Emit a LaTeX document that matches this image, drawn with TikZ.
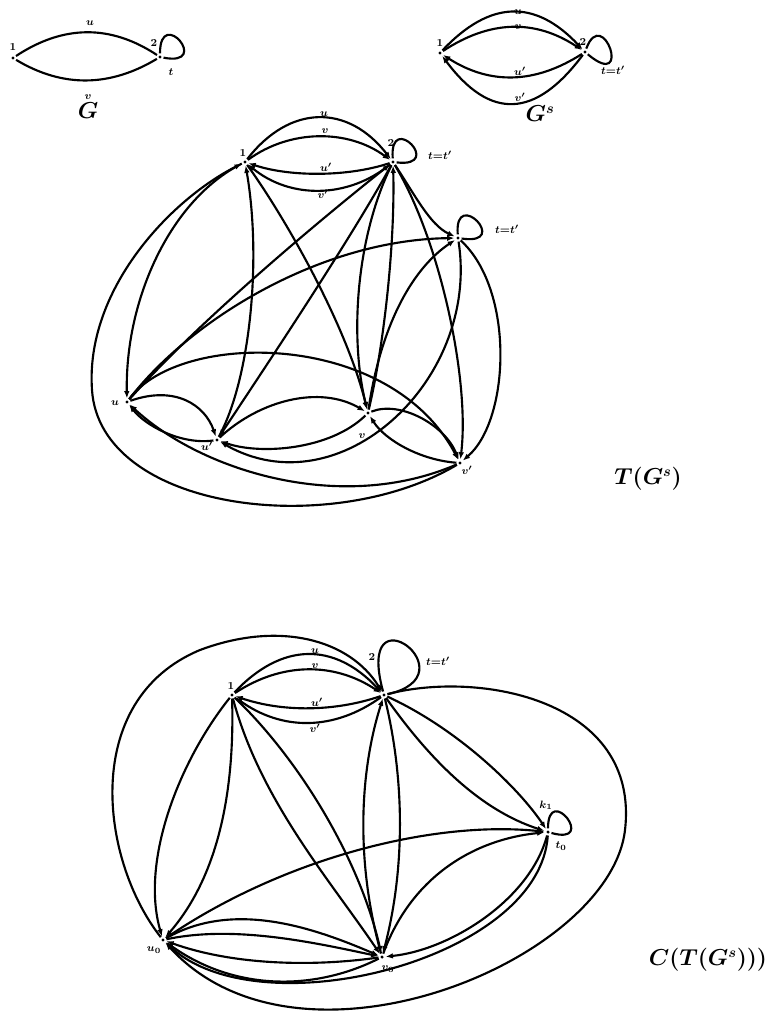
\documentclass[tikz,border=0pt]{standalone}
\usetikzlibrary{arrows.meta}
\tikzset{
  vtx/.style={circle, minimum size=5pt, inner sep=0pt,
    path picture={\fill (path picture bounding box.center) circle (1.3pt);}},
  lnk/.style={line width=1.6pt},
  arr/.style={lnk, -{Latex[length=5.5pt,width=4.2pt]}},
  lab/.style={inner sep=0pt, font=\fontsize{8.5}{10}\selectfont},
  ttl/.style={inner sep=0pt, font=\fontsize{16}{19}\selectfont},
}
\newcommand{\bmlabel}[1]{{\boldmath$#1$}}
\begin{document}
\begin{tikzpicture}[x=0.75pt,y=-0.75pt]
\useasboundingbox (0,0) rectangle (766,1027);

% ---------------- G ----------------
\node[vtx] (g1) at (13,58) {};
\node[vtx] (g2) at (160,57) {};
\draw[lnk] (g1) .. controls +(50,-33) and +(-50,-33) .. (g2);
\draw[lnk] (g1) .. controls +(50,30) and +(-50,30) .. (g2);
\draw[lnk] (g2) .. controls +(0,-52) and +(52,10) .. (g2);
\node[lab] (gl1) at (13,47) {\bmlabel{1}};
\node[lab] (gl2) at (154,43) {\bmlabel{2}};
\node[lab] (glu) at (90,23) {\bmlabel{u}};
\node[lab] (glv) at (88,97) {\bmlabel{v}};
\node[lab] (glt) at (171,72) {\bmlabel{t}};
\node[ttl] (gname) at (88,111) {\bmlabel{G}};

% ---------------- G^s ----------------
\node[vtx] (s1) at (440,53) {};
\node[vtx] (s2) at (585,52) {};
\draw[arr] (s1) .. controls +(50,-53) and +(-50,-53) .. (s2);
\draw[arr] (s1) .. controls +(50,-33) and +(-50,-33) .. (s2);
\draw[arr] (s2) .. controls +(-50,32) and +(50,32) .. (s1);
\draw[arr] (s2) .. controls +(-50,67) and +(50,67) .. (s1);
\draw[lnk] (s2) .. controls +(18,-48) and +(48,40) .. (s2);
\node[lab] (sl1) at (440,43) {\bmlabel{1}};
\node[lab] (sl2) at (583,42) {\bmlabel{2}};
\node[lab] (slu) at (518,12) {\bmlabel{u}};
\node[lab] (slv) at (518,27) {\bmlabel{v}};
\node[lab] (slup) at (520,71) {\bmlabel{u'}};
\node[lab] (slvp) at (520,97) {\bmlabel{v'}};
\node[lab] (slt) at (613,70) {\bmlabel{t{=}t'}};
\node[ttl] (sname) at (540,114) {\bmlabel{G^{s}}};

% ---------------- T(G^s) ----------------
\node[vtx] (t1) at (245,162) {};
\node[vtx] (t2) at (393,162) {};
\node[vtx] (t3) at (458,238) {};
\node[vtx] (tu) at (127,402) {};
\node[vtx] (tup) at (217,440) {};
\node[vtx] (tv) at (368,413) {};
\node[vtx] (tvp) at (460,463) {};

\draw[arr] (t1) .. controls +(45,-58) and +(-45,-58) .. (t2);
\draw[arr] (t1) .. controls +(45,-33) and +(-45,-33) .. (t2);
\draw[arr] (t2) .. controls +(-45,15) and +(45,15) .. (t1);
\draw[arr] (t2) .. controls +(-45,37) and +(45,37) .. (t1);
\draw[lnk] (t2) .. controls +(-4,-52) and +(52,6) .. (t2);
\draw[lnk] (t3) .. controls +(-4,-52) and +(54,8) .. (t3);

\draw[arr] (t1) .. controls (170,200) and (125,300) .. (tu);
\draw[arr] (tvp) .. controls (330,540) and (100,510) .. (92,390)
                 .. controls (85,290) and (170,200) .. (t1);
\draw[arr] (tvp) .. controls (340,515) and (200,470) .. (tu);
\draw[arr] (tu) .. controls (175,385) and (205,405) .. (tup);
\draw[arr] (tup) .. controls (180,445) and (145,425) .. (tu);
\draw[arr] (tu) .. controls (200,320) and (320,220) .. (t2);
\draw[arr] (tu) .. controls (190,320) and (320,240) .. (t3);
\draw[arr] (tu) .. controls (180,330) and (390,330) .. (tvp);
\draw[arr] (t1) .. controls (280,210) and (345,320) .. (tv);
\draw[arr] (tup) .. controls (250,380) and (262,260) .. (t1);
\draw[arr] (t2) .. controls (350,240) and (270,360) .. (tup);
\draw[arr] (t2) .. controls (355,240) and (350,340) .. (tv);
\draw[arr] (tv) .. controls (385,340) and (395,240) .. (t2);
\draw[arr] (tv) .. controls (380,330) and (410,270) .. (t3);
\draw[arr] (t3) .. controls (480,380) and (340,510) .. (tup);
\draw[arr] (tup) .. controls (260,400) and (320,385) .. (tv);
\draw[arr] (tv) .. controls (330,450) and (260,455) .. (tup);
\draw[arr] (tv) .. controls (400,400) and (445,425) .. (tvp);
\draw[arr] (tvp) .. controls (420,460) and (385,440) .. (tv);
\draw[arr] (t3) .. controls (515,290) and (510,420) .. (tvp);
\draw[arr] (t2) .. controls (440,240) and (470,380) .. (tvp);
\draw[arr] (t2) .. controls (415,195) and (430,225) .. (t3);

\node[lab] (tl1) at (243,153) {\bmlabel{1}};
\node[lab] (tl2) at (391,143) {\bmlabel{2}};
\node[lab] (tlu) at (324,114) {\bmlabel{u}};
\node[lab] (tlv) at (325,131) {\bmlabel{v}};
\node[lab] (tlup) at (326,167) {\bmlabel{u'}};
\node[lab] (tlvp) at (323,194) {\bmlabel{v'}};
\node[lab] (tlt2) at (440,155) {\bmlabel{t{=}t'}};
\node[lab] (tlt3) at (507,229) {\bmlabel{t{=}t'}};
\node[lab] (tlnu) at (115,403) {\bmlabel{u}};
\node[lab] (tlnup) at (207,446) {\bmlabel{u'}};
\node[lab] (tlnv) at (362,436) {\bmlabel{v}};
\node[lab] (tlnvp) at (467,470) {\bmlabel{v'}};
\node[ttl] (tname) at (648,479) {\bmlabel{T(G^{s})}};

% ---------------- C(T(G^s)) ----------------
\node[vtx] (c1) at (232,695) {};
\node[vtx] (c2) at (384,695) {};
\node[vtx] (ck) at (548,832) {};
\node[vtx] (cu) at (163,940) {};
\node[vtx] (cv) at (382,957) {};

\draw[arr] (c1) .. controls +(50,-53) and +(-50,-53) .. (c2);
\draw[arr] (c1) .. controls +(50,-33) and +(-50,-33) .. (c2);
\draw[arr] (c2) .. controls +(-50,17) and +(50,17) .. (c1);
\draw[arr] (c2) .. controls +(-50,36) and +(50,36) .. (c1);
\draw[lnk] (c2) .. controls +(-30,-110) and +(90,-20) .. (c2);
\draw[lnk] (ck) .. controls +(0,-50) and +(50,14) .. (ck);

\draw[arr] (cu) .. controls (100,860) and (80,700) .. (200,650)
                .. controls (280,620) and (350,640) .. (c2);
\draw[arr] (c2) .. controls (480,670) and (640,700) .. (625,830)
                .. controls (610,960) and (300,1090) .. (cu);
\draw[arr] (c1) .. controls (180,760) and (140,860) .. (cu);
\draw[arr] (c1) .. controls (235,800) and (215,880) .. (cu);
\draw[arr] (c1) .. controls (260,800) and (330,880) .. (cv);
\draw[arr] (c1) .. controls (300,760) and (360,860) .. (cv);
\draw[arr] (cv) .. controls (355,860) and (360,770) .. (c2);
\draw[arr] (c2) .. controls (405,780) and (405,870) .. (cv);
\draw[arr] (c2) .. controls (460,730) and (520,790) .. (ck);
\draw[arr] (c2) .. controls (430,760) and (480,810) .. (ck);
\draw[arr] (cu) .. controls (280,860) and (430,820) .. (ck);
\draw[arr] (cv) .. controls (410,880) and (470,840) .. (ck);
\draw[arr] (ck) .. controls (530,900) and (450,950) .. (cv);
\draw[arr] (ck) .. controls (540,960) and (260,1030) .. (cu);
\draw[arr] (cu) .. controls +(70,-40) and +(-70,-30) .. (cv);
\draw[arr] (cu) .. controls +(70,-15) and +(-70,-15) .. (cv);
\draw[arr] (cv) .. controls +(-70,10) and +(70,25) .. (cu);
\draw[arr] (cv) .. controls +(-70,35) and +(70,50) .. (cu);

\node[lab] (cl1) at (231,686) {\bmlabel{1}};
\node[lab] (cl2) at (372,657) {\bmlabel{2}};
\node[lab] (clt) at (438,661) {\bmlabel{t{=}t'}};
\node[lab] (clu) at (315,651) {\bmlabel{u}};
\node[lab] (clv) at (315,666) {\bmlabel{v}};
\node[lab] (clup) at (317,702) {\bmlabel{u'}};
\node[lab] (clvp) at (315,728) {\bmlabel{v'}};
\node[lab] (clk) at (546,805) {\bmlabel{k_1}};
\node[lab] (clt0) at (561,846) {\bmlabel{t_0}};
\node[lab] (clu0) at (154,950) {\bmlabel{u_0}};
\node[lab] (clv0) at (388,969) {\bmlabel{v_0}};
\node[ttl] (cname) at (708,960) {\bmlabel{C(T(G^{s})))}};
\end{tikzpicture}
\end{document}
